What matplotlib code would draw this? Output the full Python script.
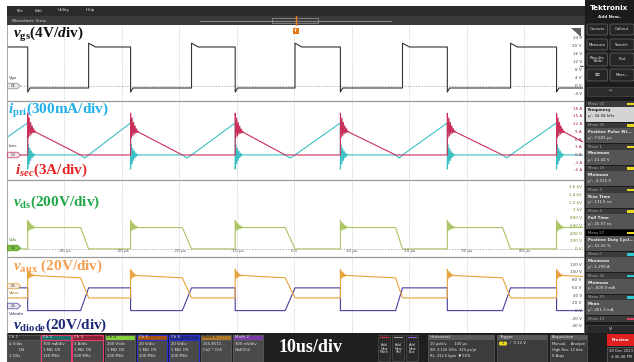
import numpy as np
import matplotlib.pyplot as plt
from matplotlib.patches import Rectangle, FancyBboxPatch, Polygon

W, H = 634, 362

plt.rcParams['mathtext.fontset'] = 'custom'
plt.rcParams['mathtext.rm'] = 'Liberation Serif:bold'
plt.rcParams['mathtext.it'] = 'Liberation Serif:italic:bold'
plt.rcParams['mathtext.bf'] = 'Liberation Serif:bold'

# =========================
# DATA (time in us)
# =========================
rise_us = [-54.4, -35.8, -17.9, 0.1, 18.8, 37.6, 56.2]   # gate turn-on
fall_us = [-46.4, -28.5, -10.3, 8.0, 26.6, 45.6]         # gate turn-off
dz_us = [-37.2, -19.5, -1.6, 17.6, 36.2, 54.5]           # secondary current reaches zero

vgs_hi, vgs_peak, vgs_lo, vgs_min = 19.5, 21.4, -1.0, -3.0
ipri_pk, ipri_dip = 1.25, -0.12
isec_pk = 10.5
vds_hi = 555.0
vaux_hi = [92.0, 86.0]
vaux_lo = 34.0
vdiode_hi, vdiode_lo = 60.0, 1.0

ring_dt = 0.13
ipri_ring = [-0.55, 0.40, -0.35, 0.26, -0.21, 0.15, -0.11, 0.07, -0.05, 0.03, 0.0]
isec_ring = [5.8, -3.5, 4.2, -2.6, 2.8, -1.6, 1.7, -0.9, 0.9, -0.4, 0.3, 0.0]
vds_ring = [190, -80, 140, -60, 95, -40, 60, -25, 30, -10, 10, 0]
vaux_ring = [16, -8, 11, -5, 7, -3, 3, -1, 1, 0]

vgs_ticks = [24, 20, 16, 12, 8, 4, 0, -4]
isec_ticks = [18, 15, 12, 9, 6, 3, 0, -3, -6]
vds_ticks = [1600, 1400, 1200, 1000, 800, 600, 400, 200, 0]
vds_tick_text = ['1.6 kV', '1.4 kV', '1.2 kV', '1 kV', '800 V', '600 V', '400 V', '200 V', '0 V']
aux_ticks = [120, 100, 80, 60, 40, 20, 0, -20, -40]
time_ticks = [-40, -30, -20, -10, 0, 10, 20, 30, 40]
time_text = ['-40 µs', '-30 µs', '-20 µs', '-10 µs', '0 s', '10 µs', '20 µs', '30 µs', '40 µs']

meas = [
    ('Meas 50', 'Frequency', "µ': 34.58 kHz", '#e8d820'),
    ('Meas 35', 'Positive Pulse Wi...', "µ': 7.601 µs", '#e8d820'),
    ('Meas 1', 'Maximum', "µ': 21.42 V", '#e8d820'),
    ('Meas 16', 'Minimum', "µ': -3.015 V", '#e8d820'),
    ('Meas 3', 'Rise Time', "µ': 131.5 ns", '#e8d820'),
    ('Meas 4', 'Fall Time', "µ': 25.57 ns", '#e8d820'),
    ('Meas 57', 'Positive Duty Cycl...', "µ': 41.16 %", '#e8d820'),
    ('Meas 5', 'Maximum', "µ': 1.299 A", '#30c8d0'),
    ('Meas 32', 'Minimum', "µ': -609.9 mA", '#30c8d0'),
    ('Meas 31', 'Mean', "µ': 261.3 mA", '#30c8d0'),
    ('Meas 10', '', '', '#e04060'),
]

channels = [
    ('Ch 1', ['4 V/div', '        DS', '1 GHz'], '#333333', '#e0e0e0', '#555555', 7, 40),
    ('Ch 2', ['300 mA/div', '1 MΩ  DS', '120 MHz'], '#1e6e6e', '#e0e0e0', '#e0406a', 41, 71),
    ('Ch 3', ['3 A/div', '1 MΩ  DS', '500 MHz'], '#8a2036', '#e0e0e0', '#e0406a', 72, 103),
    ('Ch 4', ['200 V/div', '1 MΩ  DS', '200 MHz'], '#86d23a', '#202020', '#555555', 105, 135),
    ('Ch 5', ['20 V/div', '1 MΩ  DS', '200 MHz'], '#a8520e', '#e0e0e0', '#2a34c8', 137, 167),
    ('Ch 6', ['20 V/div', '1 MΩ  DS', '200 MHz'], '#22288a', '#e0e0e0', '#2a34c8', 169, 199),
    ('Math 1', ['155.8572 ...', 'Ch2 * Ch5', ''], '#b07828', '#202020', '#555555', 201, 231),
    ('Math 2', ['300 mV/div', 'Ch4/Ch2', ''], '#7a3aa8', '#e0e0e0', '#555555', 233, 263),
]


# =========================
# WAVEFORMS
# =========================
def build_waves():
    w = {k: ([], []) for k in ['vgs', 'ipri', 'isec', 'vds', 'vaux', 'vdiode']}

    def add(k, t, v):
        w[k][0].append(t)
        w[k][1].append(v)

    for i, f in enumerate(fall_us):
        r, dz, rn = rise_us[i], dz_us[i], rise_us[i + 1]

        add('vgs', r, vgs_lo); add('vgs', r, vgs_peak); add('vgs', r + 1.2, vgs_hi)
        add('vgs', f, vgs_hi); add('vgs', f, vgs_min); add('vgs', f + 0.4, vgs_lo)
        add('vgs', rn, vgs_lo)

        add('ipri', r, 0.0); add('ipri', f, ipri_pk)
        for k, a in enumerate(ipri_ring):
            add('ipri', f + k * ring_dt, a)
        add('ipri', dz, 0.0); add('ipri', (dz + rn) / 2, ipri_dip); add('ipri', rn, 0.0)

        add('isec', r, 0.0); add('isec', f, 0.0)
        for k, a in enumerate(isec_ring):
            t = f + k * ring_dt
            add('isec', t, isec_pk * (dz - t) / (dz - f) + a)
        add('isec', dz, 0.0); add('isec', rn, 0.0)

        add('vds', r, 0.0); add('vds', f, 0.0)
        for k, a in enumerate(vds_ring):
            add('vds', f + k * ring_dt, vds_hi + a)
        add('vds', dz, vds_hi); add('vds', rn, 0.0)

        add('vaux', r, vaux_lo); add('vaux', f, vaux_lo)
        for k, a in enumerate(vaux_ring):
            add('vaux', f + k * ring_dt, vaux_hi[0] + a)
        add('vaux', dz, vaux_hi[1]); add('vaux', rn, vaux_lo)

        add('vdiode', r, vdiode_hi); add('vdiode', f, vdiode_hi); add('vdiode', f, vdiode_lo)
        add('vdiode', dz, vdiode_lo); add('vdiode', rn, vdiode_hi)
    return w


waves = build_waves()

fig = plt.figure(figsize=(W / 100, H / 100), dpi=100, facecolor='white')

# background / chrome in pixel coordinates
bg = fig.add_axes([0, 0, 1, 1])
bg.set_xlim(0, W)
bg.set_ylim(H, 0)
bg.axis('off')


def rect(ax, x0, y0, x1, y1, fc, ec='none', lw=0.6, z=1):
    ax.add_patch(Rectangle((x0, y0), x1 - x0, y1 - y0, facecolor=fc, edgecolor=ec, linewidth=lw, zorder=z))


def txt(ax, x, y, s, c='white', fs=3.0, **kw):
    ax.text(x, y, s, color=c, fontsize=fs, va='center', **kw)


# menu bar + waveform view bar
rect(bg, 7, 6, 585, 15.5, '#2b2b2b')
for x, s in zip([17, 35, 58, 86], ['File', 'Edit', 'Utility', 'Help']):
    txt(bg, x, 10.5, s, '#e0e0e0', 3.0)
rect(bg, 7, 16, 585, 25, '#3a3a3a')
txt(bg, 12, 20.5, 'Waveform View', '#d8d8d8', 3.2)
bg.plot([200, 391], [20.5, 20.5], color='#9a9a9a', lw=0.6)
rect(bg, 272, 18, 318, 23, 'none', '#9a9a9a', 0.5)
bg.plot([295.5, 295.5], [16, 25], color='#e8841e', lw=1.0)

# right control panel
rect(bg, 585, 0, W, 333, '#1c1c1c')
bg.text(609.5, 7.5, 'Tektronix', color='white', fontsize=5.2, fontweight='bold', ha='center', va='center')
txt(bg, 609.5, 17, 'Add New..', '#e8e8e8', 3.0, ha='center', fontweight='bold')
buttons = [('Cursors', 'Callout', 24, 35), ('Measure', 'Search', 39, 50),
           ('Results\nTable', 'Plot', 53, 66), ('⌧', 'More...', 69, 81)]
for a, b, y0, y1 in buttons:
    for x0, x1, s in [(587, 607.5, a), (610, 634, b)]:
        bg.add_patch(FancyBboxPatch((x0, y0), x1 - x0, y1 - y0, boxstyle='round,pad=0,rounding_size=1.5',
                                    facecolor='#262626', edgecolor='#6a6a6a', lw=0.5))
        txt(bg, (x0 + x1) / 2, (y0 + y1) / 2, s, '#e8e8e8', 2.9, ha='center', linespacing=0.9)
rect(bg, 587, 87, 634, 96, '#2c2c2c', '#555555', 0.4)
txt(bg, 610, 91.5, '^', '#e0e0e0', 4.5, ha='center')

for i, (head, name, val, c) in enumerate(meas):
    y0 = 101 + i * 21.5
    rect(bg, 586, y0, 634, y0 + 5.5, '#000000' if head == 'Meas 57' else '#3a3a3a')
    txt(bg, 588, y0 + 2.8, head, '#a8a8a8', 2.8)
    rect(bg, 627, y0 + 1.5, 634, y0 + 4.3, c)
    if name and y0 + 20.5 < 326:
        body = '#d4d4d4' if i == 0 else '#555555'
        tc = '#111111' if i == 0 else '#f0f0f0'
        rect(bg, 586, y0 + 5.5, 634, y0 + 20.5, body)
        txt(bg, 588, y0 + 9.5, name, tc, 2.9, fontweight='bold')
        txt(bg, 588, y0 + 15.5, val, tc, 2.9)
rect(bg, 586, 325, 634, 333, '#2a2a2a', '#555555', 0.4)
txt(bg, 610, 329, 'v', '#e0e0e0', 4.0, ha='center')

# bottom status bar
rect(bg, 7, 333, W, H, '#1f1f1f')
for name, lines, hc, htc, ec, x0, x1 in channels:
    rect(bg, x0, 334.5, x1, 361.5, '#4a4a4a', ec, 0.8)
    rect(bg, x0, 334.5, x1, 340, hc, ec, 0.8)
    txt(bg, x0 + 2, 337.3, name, htc, 2.9)
    for k, s in enumerate(lines):
        txt(bg, x0 + 2, 344 + k * 6, s, '#ececec', 2.7)
bg.text(311, 348, '10us/div', color='white', fontsize=13, fontweight='bold',
        family='Liberation Serif', ha='center', va='center')
for x0, s, c in [(378, 'Add\nNew\nMath', '#d03040'), (392, 'Add\nNew\nRef', '#a0a0a0'),
                 (406, 'Add\nNew\nBus', '#9060d0')]:
    rect(bg, x0, 335, x0 + 12, 361, '#2a2a2a', '#555555', 0.4)
    bg.plot([x0 + 2, x0 + 10], [336.5, 336.5], color=c, lw=0.8)
    txt(bg, x0 + 6, 348.5, s, '#e0e0e0', 2.5, ha='center', linespacing=0.9)
for x0, x1, head, lines in [(428, 494, 'Horizontal', ['10 µs/div       100 µs', 'SR: 3.125 GS/s  320 ps/pt', 'RL: 312.5 kpts  ▼ 50%']),
                            (497, 547, 'Trigger', ['', '', '']),
                            (550, 587, 'Acquisition', ['Manual,    Analyze', 'High Res: 12 bits', '0 Acqs'])]:
    rect(bg, x0, 334.5, x1, 361.5, '#3c3c3c', '#5a5a5a', 0.5)
    rect(bg, x0, 334.5, x1, 340, '#5a5a5a')
    txt(bg, x0 + 2, 337.3, head, '#e8e8e8', 2.9)
    for k, s in enumerate(lines):
        txt(bg, x0 + 2, 344 + k * 6, s, '#ececec', 2.6)
bg.add_patch(FancyBboxPatch((499, 341.5), 8, 4, boxstyle='round,pad=0,rounding_size=1.5',
                            facecolor='#e8d820', edgecolor='none'))
txt(bg, 503, 343.5, '1', '#202020', 2.6, ha='center')
txt(bg, 510, 343.5, '⁄   9.12 V', '#ececec', 2.8)
rect(bg, 607, 334, W, 346, '#e02020')
txt(bg, 620.5, 340, 'Preview', 'white', 2.8, ha='center', fontweight='bold')
rect(bg, 607, 347, W, 361.5, '#2a2a2a', '#777777', 0.4)
txt(bg, 609, 351, '28 Dec 2023', '#e0e0e0', 2.7)
txt(bg, 611, 357, '4:46:48 PM', '#e0e0e0', 2.7)


# =========================
# PANELS
# =========================
def panel(y0, y1, ylim):
    ax = fig.add_axes([7 / W, 1 - y1 / H, (583 - 7) / W, (y1 - y0) / H])
    ax.set_xlim(-50, 50.2)
    ax.set_ylim(*ylim)
    ax.set_facecolor('white')
    for s in ax.spines.values():
        s.set_visible(False)
    ax.set_xticks([])
    ax.set_yticks([])
    return ax


def grid(ax, levels):
    tt = np.arange(-50, 51, 2)
    gx, gy = np.meshgrid(tt, levels)
    ax.scatter(gx.ravel(), gy.ravel(), s=0.25, c='#a8a8a8', marker='s', linewidths=0, zorder=1)
    for t in range(-40, 50, 10):
        ax.axvline(t, color='#c4c4c4', lw=0.5, ls=(0, (1.5, 1.5)), zorder=1)


def right_labels(ax, vals, texts, color):
    tr = ax.get_yaxis_transform()
    for v, s in zip(vals, texts):
        ax.text(0.998, v, s, transform=tr, ha='right', va='center', fontsize=3.0, color=color, zorder=5)


# vgs panel
ax1 = panel(26, 100, (-7, 30))
grid(ax1, np.arange(-4, 29, 4))
ax1.axhline(0, color='#9a9a9a', lw=0.5, ls=(0, (2, 2)))
ax1.plot(*waves['vgs'], color='#333333', lw=0.8, zorder=3)
right_labels(ax1, vgs_ticks, [f'{v} V' for v in vgs_ticks], '#444444')

# current panel, in divisions (ipri 0.3 A/div, isec 3 A/div)
ax2 = panel(101, 179, (-3.12, 7.01))
grid(ax2, np.arange(-3, 8, 1))
ax2.plot(waves['ipri'][0], np.array(waves['ipri'][1]) / 0.3, color='#3cbfc4', lw=0.8, zorder=3)
ax2.plot(waves['isec'][0], np.array(waves['isec'][1]) / 3.0, color='#c8305a', lw=0.8, zorder=4)
right_labels(ax2, [v / 3 for v in isec_ticks], [f'{v} A' for v in isec_ticks], '#a02848')

# vds panel
ax3 = panel(180, 256, (-184, 1790))
grid(ax3, np.arange(0, 1801, 200))
ax3.axhline(0, color='#9a9a9a', lw=0.5, ls=(0, (2, 2)))
ax3.plot(*waves['vds'], color='#a9c566', lw=0.8, zorder=3)
right_labels(ax3, vds_ticks, vds_tick_text, '#6a8a20')
for t, s in zip(time_ticks, time_text):
    ax3.text(t, -60, s, ha='center', va='center', fontsize=3.0, color='#555555', zorder=5)

# vaux / vdiode panel
ax4 = panel(257, 333, (-57, 140))
grid(ax4, np.arange(-40, 141, 20))
ax4.plot(*waves['vdiode'], color='#4a3d9c', lw=0.8, zorder=3)
ax4.plot(*waves['vaux'], color='#e8a23c', lw=0.8, zorder=4)
right_labels(ax4, aux_ticks, [f'{v} V' for v in aux_ticks], '#444444')

# =========================
# OVERLAY: separators, badges, labels
# =========================
ov = fig.add_axes([0, 0, 1, 1])
ov.set_xlim(0, W)
ov.set_ylim(H, 0)
ov.axis('off')
ov.patch.set_alpha(0)

for y in [100.5, 179.5, 256.5]:
    ov.plot([7, 583], [y, y], color='#9a9a9a', lw=0.9)
ov.plot([7, 7], [25, 333], color='#9a9a9a', lw=0.6)
ov.plot([583.5, 583.5], [25, 333], color='#555555', lw=0.6)
ov.text(584.5, 160, '⋮', color='#888888', fontsize=4, ha='center', va='center')

# trigger marker and level arrow
rect(ov, 292.5, 27.5, 298.5, 33.5, '#e07818', z=5)
txt(ov, 295.5, 30.5, 'T', 'white', 3.0, ha='center', fontweight='bold', zorder=6)
ov.text(584.5, 66.5, '←', color='#111111', fontsize=3.6, ha='right', va='center')
ov.add_patch(Polygon([[571, 28], [581, 28], [581, 37]], closed=True, facecolor='#606060', edgecolor='none'))

# channel badges
badges = [('C1', 'Vgs', 86, 78, '#e4e4e4', '#888888', '#333333'),
          ('C3', 'Isec', 155, 146, '#f2e4ea', '#c8305a', '#333333'),
          ('C4', 'Vds', 248, 240, '#7cc040', '#4a8a20', '#4a7a30'),
          ('C5', 'Vaux', 286, 293, '#f6eadc', '#e8a23c', '#b07020'),
          ('C6', 'Vdiode', 306, 314, '#e8e6f4', '#4a3d9c', '#2a2a6a')]
for code, name, yb, yn, fc, ec, tc in badges:
    ov.add_patch(Polygon([[7.5, yb - 2.8], [17.5, yb - 2.8], [20.5, yb], [17.5, yb + 2.8], [7.5, yb + 2.8]],
                         closed=True, facecolor=fc, edgecolor=ec, lw=0.5, zorder=6))
    txt(ov, 13, yb, code, '#333333', 2.6, ha='center', zorder=7)
    txt(ov, 9, yn, name, tc, 3.2, zorder=7)

# big channel labels
labels = [
    (13, 35, r'$v_{\mathrm{gs}}\mathrm{(4V/}d\mathrm{iv)}$', '#111111'),
    (8, 110, r'$i_{\mathrm{pri}}\mathrm{(300mA/div)}$', '#1fb0ec'),
    (15, 170, r'$i_{sec}\mathrm{(3A/div)}$', '#e82424'),
    (13, 202, r'$v_{\mathrm{ds}}\mathrm{(200V/div)}$', '#22a84a'),
    (13, 266, r'$v_{\mathrm{aux}}\ \mathrm{(20V/div)}$', '#f5a050'),
    (13, 325, r'$v_{\mathrm{diode}}\mathrm{(20V/div)}$', '#1c2a78'),
]
for x, y, s, c in labels:
    ov.text(x, y, s, color=c, fontsize=11, ha='left', va='center', zorder=8)

fig.savefig('out.png', dpi=100, facecolor='white')
